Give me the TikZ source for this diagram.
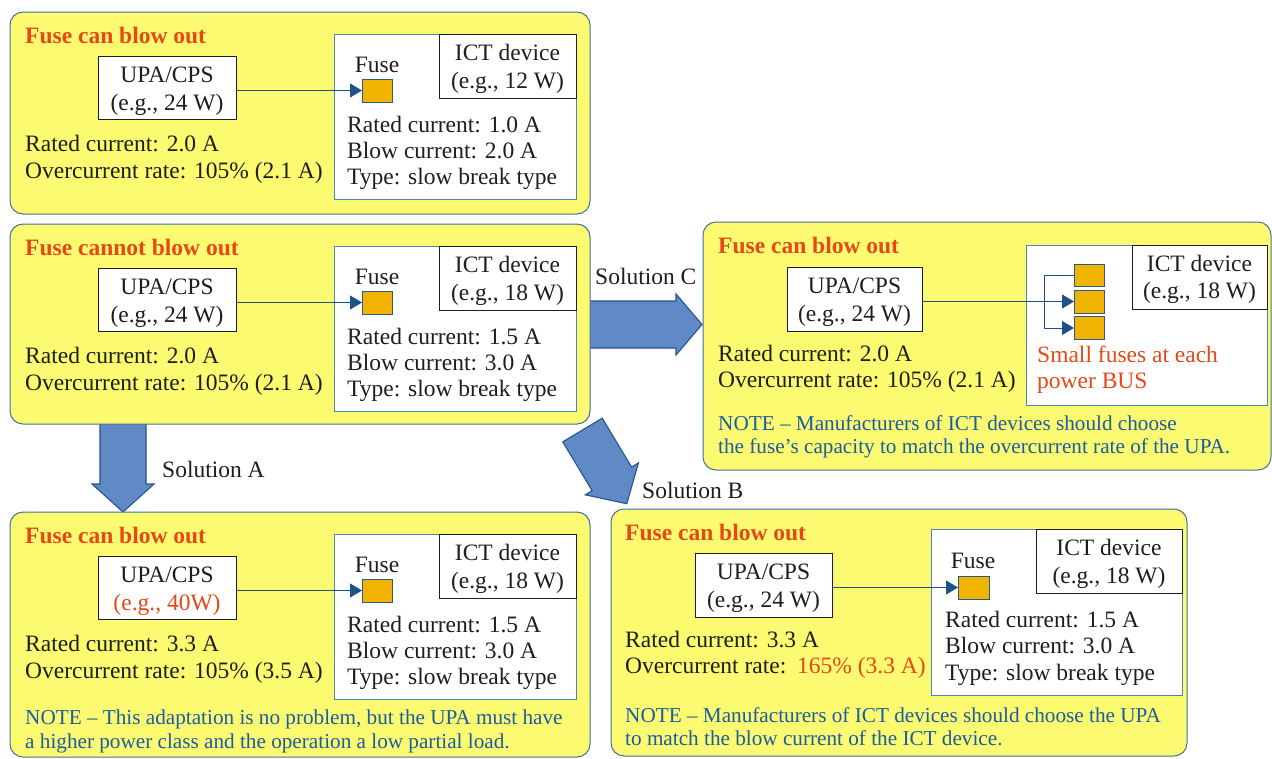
\documentclass[tikz,border=0pt]{standalone}
\usepackage{fontspec}
\setmainfont{Liberation Serif}
\usetikzlibrary{arrows.meta}
\definecolor{panelyellow}{RGB}{251,250,112}
\definecolor{panelblue}{RGB}{65,113,156}
\definecolor{titlecol}{RGB}{230,72,22}
\definecolor{notecol}{RGB}{28,92,160}
\definecolor{textcol}{RGB}{30,30,30}
\definecolor{fusefill}{RGB}{240,180,0}
\definecolor{fuseline}{RGB}{40,90,140}
\definecolor{arrowfill}{RGB}{96,138,198}
\definecolor{arrowline}{RGB}{38,84,140}
\definecolor{conncol}{RGB}{28,82,135}
\definecolor{ictline}{RGB}{80,130,180}
\newcommand{\msz}{\fontsize{23.5}{26}\selectfont}
\newcommand{\nsz}{\fontsize{21.2}{24}\selectfont}
\begin{document}
\begin{tikzpicture}[x=1pt,y=-1pt,
  box/.style={inner sep=0pt, outer sep=0pt, anchor=north west},
  panel/.style={draw=panelblue, fill=panelyellow, rounded corners=13pt, line width=1pt},
  wbox/.style={draw=textcol, fill=white, line width=0.9pt},
  ictbox/.style={draw=ictline, fill=white, line width=0.8pt},
  devbox/.style={draw=textcol, fill=white, line width=0.9pt},
  fusebox/.style={draw=fuseline, fill=fusefill, line width=1pt},
  conn/.style={draw=conncol, line width=0.9pt, -{Triangle[length=12pt,width=14pt]}},
  connline/.style={draw=conncol, line width=0.9pt},
  bigarrow/.style={draw=arrowline, fill=arrowfill, line width=1.1pt, line join=miter},
  txt/.style={anchor=base west, inner sep=0pt, font=\msz, text=textcol},
  ctxt/.style={anchor=base, inner sep=0pt, font=\msz, text=textcol},
  ttl/.style={anchor=base west, inner sep=0pt, font=\msz\bfseries, text=titlecol},
  note/.style={anchor=base west, inner sep=0pt, font=\nsz, text=notecol},
  otxt/.style={anchor=base west, inner sep=0pt, font=\msz, text=titlecol}
]
\useasboundingbox (0,0) rectangle (1272,758);
\fill[white] (0,0) rectangle (1272,758);

% ---------------- big arrows (behind panels) ----------------
\draw[bigarrow] (100,420) -- (146,420) -- (146,484) -- (154,484) -- (123,512) -- (92,484) -- (100,484) -- cycle;
\draw[bigarrow] (586,301) -- (676,301) -- (676,294) -- (702,324.5) -- (676,355) -- (676,348) -- (586,348) -- cycle;
\begin{scope}[shift={(582.5,430)}, rotate=-59]
\draw[bigarrow] (0,-23) -- (57,-23) -- (57,-31) -- (86,0) -- (57,31) -- (57,23) -- (0,23) -- cycle;
\end{scope}

% ---------------- Panel 1 ----------------
\node[panel,box,minimum width=580pt,minimum height=202pt] (p1) at (10,12) {};
\node[ttl] (t1) at (25,43) {Fuse can blow out};
\node[wbox,box,minimum width=138pt,minimum height=63pt] (u1) at (98,56) {};
\node[ctxt] (u1a) at (167,82) {UPA/CPS};
\node[ctxt] (u1b) at (167,110) {(e.g., 24 W)};
\node[ictbox,box,minimum width=242pt,minimum height=165pt] (i1) at (334,34) {};
\node[devbox,box,minimum width=137pt,minimum height=64pt] (d1) at (439,34) {};
\node[ctxt] (d1a) at (507.5,60) {ICT device};
\node[ctxt] (d1b) at (507.5,88) {(e.g., 12 W)};
\node[ctxt] (f1l) at (377,72) {Fuse};
\node[fusebox,box,minimum width=30pt,minimum height=23pt] (f1) at (362,79) {};
\draw[conn] (u1.east |- f1.west) -- (f1.west);
\node[txt] (r1a) at (347,132) {Rated current: 1.0 A};
\node[txt] (r1b) at (347,158) {Blow current: 2.0 A};
\node[txt] (r1c) at (347,184) {Type: slow break type};
\node[txt] (l1a) at (25,151) {Rated current: 2.0 A};
\node[txt] (l1b) at (25,178) {Overcurrent rate: 105\% (2.1 A)};

% ---------------- Panel 2 ----------------
\begin{scope}[shift={(0,212)}]
\node[panel,box,minimum width=580pt,minimum height=200pt] (p2) at (10,12) {};
\node[ttl] (t2) at (25,43) {Fuse cannot blow out};
\node[wbox,box,minimum width=138pt,minimum height=63pt] (u2) at (98,56) {};
\node[ctxt] (u2a) at (167,82) {UPA/CPS};
\node[ctxt] (u2b) at (167,110) {(e.g., 24 W)};
\node[ictbox,box,minimum width=242pt,minimum height=165pt] (i2) at (334,34) {};
\node[devbox,box,minimum width=137pt,minimum height=64pt] (d2) at (439,34) {};
\node[ctxt] (d2a) at (507.5,60) {ICT device};
\node[ctxt] (d2b) at (507.5,88) {(e.g., 18 W)};
\node[ctxt] (f2l) at (377,72) {Fuse};
\node[fusebox,box,minimum width=30pt,minimum height=23pt] (f2) at (362,79) {};
\draw[conn] (u2.east |- f2.west) -- (f2.west);
\node[txt] (r2a) at (347,132) {Rated current: 1.5 A};
\node[txt] (r2b) at (347,158) {Blow current: 3.0 A};
\node[txt] (r2c) at (347,184) {Type: slow break type};
\node[txt] (l2a) at (25,151) {Rated current: 2.0 A};
\node[txt] (l2b) at (25,178) {Overcurrent rate: 105\% (2.1 A)};
\end{scope}

% ---------------- Panel A ----------------
\begin{scope}[shift={(0,500)}]
\node[panel,box,minimum width=580pt,minimum height=245pt] (pA) at (10,12) {};
\node[ttl] (tA) at (25,43) {Fuse can blow out};
\node[wbox,box,minimum width=138pt,minimum height=63pt] (uA) at (98,56) {};
\node[ctxt] (uAa) at (167,82) {UPA/CPS};
\node[ctxt,text=titlecol] (uAb) at (167,110) {(e.g., 40W)};
\node[ictbox,box,minimum width=242pt,minimum height=165pt] (iA) at (334,34) {};
\node[devbox,box,minimum width=137pt,minimum height=64pt] (dA) at (439,34) {};
\node[ctxt] (dAa) at (507.5,60) {ICT device};
\node[ctxt] (dAb) at (507.5,88) {(e.g., 18 W)};
\node[ctxt] (fAl) at (377,72) {Fuse};
\node[fusebox,box,minimum width=30pt,minimum height=23pt] (fA) at (362,79) {};
\draw[conn] (uA.east |- fA.west) -- (fA.west);
\node[txt] (rAa) at (347,132) {Rated current: 1.5 A};
\node[txt] (rAb) at (347,158) {Blow current: 3.0 A};
\node[txt] (rAc) at (347,184) {Type: slow break type};
\node[txt] (lAa) at (25,151) {Rated current: 3.3 A};
\node[txt] (lAb) at (25,178) {Overcurrent rate: 105\% (3.5 A)};
\node[note] (nAa) at (25,224) {NOTE -- This adaptation is no problem, but the UPA must have};
\node[note] (nAb) at (25,248) {a higher power class and the operation a low partial load.};
\end{scope}

% ---------------- Panel C ----------------
\node[panel,box,minimum width=568pt,minimum height=248pt] (pC) at (703,222) {};
\node[ttl] (tC) at (718,253) {Fuse can blow out};
\node[wbox,box,minimum width=135pt,minimum height=64pt] (uC) at (787,267) {};
\node[ctxt] (uCa) at (854.5,293) {UPA/CPS};
\node[ctxt] (uCb) at (854.5,321) {(e.g., 24 W)};
\node[ictbox,box,minimum width=241pt,minimum height=160pt] (iC) at (1026,245) {};
\node[devbox,box,minimum width=135pt,minimum height=64pt] (dC) at (1132,245) {};
\node[ctxt] (dCa) at (1199.5,271) {ICT device};
\node[ctxt] (dCb) at (1199.5,298) {(e.g., 18 W)};
\node[fusebox,box,minimum width=30pt,minimum height=22pt] (fC1) at (1074,264) {};
\node[fusebox,box,minimum width=30pt,minimum height=23pt] (fC2) at (1074,290) {};
\node[fusebox,box,minimum width=30pt,minimum height=23pt] (fC3) at (1074,316.5) {};
\coordinate (bC) at (1044,301.5);
\draw[conn] (uC.east |- fC2.west) -- (fC2.west);
\draw[connline] (fC1.west) -| (bC);
\draw[conn] (bC) |- (fC3.west);
\node[otxt] (sCa) at (1037,362) {Small fuses at each};
\node[otxt] (sCb) at (1037,388) {power BUS};
\node[txt] (lCa) at (718,361) {Rated current: 2.0 A};
\node[txt] (lCb) at (718,387) {Overcurrent rate: 105\% (2.1 A)};
\node[note] (nCa) at (718,430) {NOTE -- Manufacturers of ICT devices should choose};
\node[note] (nCb) at (718,453) {the fuse's capacity to match the overcurrent rate of the UPA.};

% ---------------- Panel B ----------------
\node[panel,box,minimum width=576pt,minimum height=247pt] (pB) at (611,509) {};
\node[ttl] (tB) at (625,540) {Fuse can blow out};
\node[wbox,box,minimum width=137pt,minimum height=64pt] (uB) at (695,553) {};
\node[ctxt] (uBa) at (763.5,579) {UPA/CPS};
\node[ctxt] (uBb) at (763.5,607) {(e.g., 24 W)};
\node[ictbox,box,minimum width=251pt,minimum height=166pt] (iB) at (931,529) {};
\node[devbox,box,minimum width=146pt,minimum height=64pt] (dB) at (1036,529) {};
\node[ctxt] (dBa) at (1109,555) {ICT device};
\node[ctxt] (dBb) at (1109,583) {(e.g., 18 W)};
\node[ctxt] (fBl) at (973,568) {Fuse};
\node[fusebox,box,minimum width=31pt,minimum height=23pt] (fB) at (958,576) {};
\draw[conn] (uB.east |- fB.west) -- (fB.west);
\node[txt] (rBa) at (945,627) {Rated current: 1.5 A};
\node[txt] (rBb) at (945,653) {Blow current: 3.0 A};
\node[txt] (rBc) at (945,680) {Type: slow break type};
\node[txt] (lBa) at (625,647) {Rated current: 3.3 A};
\node[txt] (lBb) at (625,673) {Overcurrent rate:\hspace{3pt} \textcolor{titlecol}{165\% (3.3 A)}};
\node[note] (nBa) at (625,722) {NOTE -- Manufacturers of ICT devices should choose the UPA};
\node[note] (nBb) at (625,745) {to match the blow current of the ICT device.};

% ---------------- solution labels ----------------
\node[txt] (solC) at (595,284) {Solution C};
\node[txt] (solA) at (162,477) {Solution A};
\node[txt] (solB) at (642,498) {Solution B};
\end{tikzpicture}
\end{document}
